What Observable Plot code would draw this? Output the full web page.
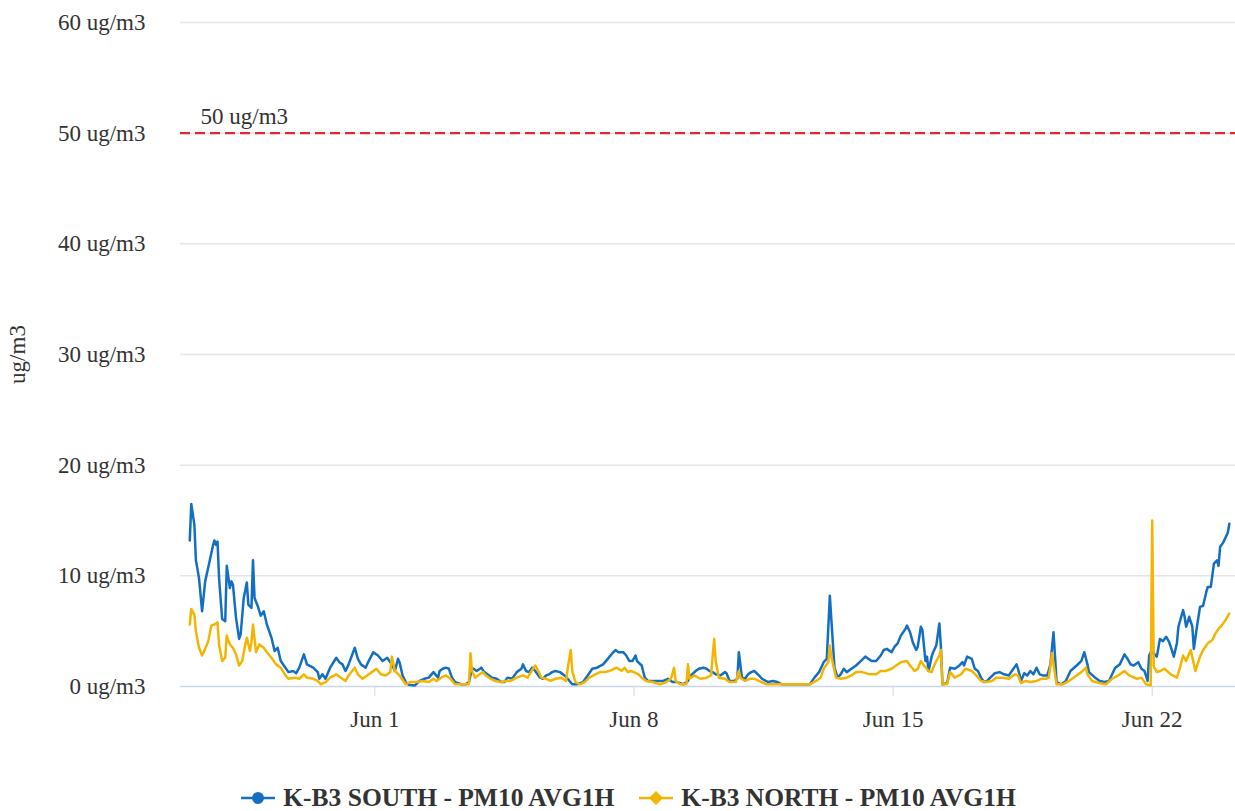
<!DOCTYPE html>
<html><head><meta charset="utf-8">
<script src="https://cdn.jsdelivr.net/npm/d3@7"></script>
<script src="https://cdn.jsdelivr.net/npm/@observablehq/plot@0.6"></script>
<style>
body{margin:0;background:#fff;font-family:"Liberation Serif",serif;}
#chart{position:absolute;left:0;top:0;}
#legend{position:absolute;top:783px;left:0;width:1235px;box-sizing:border-box;padding-left:22px;display:flex;justify-content:center;align-items:center;font-weight:bold;font-size:25.5px;color:#333;white-space:nowrap;}
.item{display:flex;align-items:center;}
.item svg{margin-right:8px;}
</style></head><body>
<div id="chart"></div>
<div id="legend"></div>
<script>
// Series names
const seriesNames = ["K-B3 SOUTH - PM10 AVG1H", "K-B3 NORTH - PM10 AVG1H"];
const seriesColors = ["#146fc2", "#f5b400"];
// start of record (hour 0) = May 27, 00:00
const startTime = Date.UTC(2023, 4, 27, 0);
const domainStart = Date.UTC(2023, 4, 26, 18);
const domainEnd = Date.UTC(2023, 5, 24, 6);
const tickDates = [Date.UTC(2023,5,1), Date.UTC(2023,5,8), Date.UTC(2023,5,15), Date.UTC(2023,5,22)];
const yTicks = [0, 10, 20, 30, 40, 50, 60];
const limitValue = 50;
const limitLabel = "50 ug/m3";

// [hours since start, ug/m3]
const southPM10 = [
[0,13.2],[1,16.5],[3,14.6],[4,11.4],[6,9.8],[8,6.8],[10,9.5],[13,11.4],[15,12.7],[16,13.2],[17,12.8],[18,13.1],[19,9.8],[21,6.1],[23,5.9],[24,10.9],[26,8.9],[27,9.5],[28,9.2],[30,6.2],[32,4.3],[33,4.7],[35,8.0],[37,9.4],[38,7.4],[40,7.1],[41,11.4],[42,8.0],[44,7.3],[46,6.4],[48,6.8],[50,5.6],[53,4.4],[55,3.2],[57,3.5],[59,2.3],[61,1.9],[64,1.3],[67,1.4],[69,1.2],[71,1.7],[74,2.9],[76,2.0],[80,1.7],[83,1.3],[84,0.7],[86,1.1],[88,0.7],[91,1.7],[95,2.6],[97,2.2],[99,2.0],[101,1.4],[103,2.0],[107,3.5],[109,2.5],[111,2.0],[114,1.7],[116,2.3],[119,3.1],[122,2.8],[125,2.3],[128,2.6],[131,2.0],[133,1.4],[135,2.5],[136,2.2],[138,1.0],[140,0.4],[142,0.15],[146,0.1],[149,0.5],[152,0.7],[155,0.8],[158,1.3],[161,0.8],
[162,1.4],[164,1.6],[166,1.7],[168,1.6],[170,0.8],[172,0.4],[176,0.2],[179,0.2],[181,0.4],[183,1.6],[184,1.6],[186,1.4],[189,1.7],[191,1.3],[193,1.1],[196,0.8],[199,0.7],[202,0.4],[204,0.4],[206,0.8],[209,0.7],[212,1.3],[215,1.6],[216,2.0],[218,1.4],[220,1.3],[222,1.7],[224,1.4],[227,0.8],[229,0.7],[231,1.0],[233,1.1],[235,1.3],[237,1.4],[240,1.3],[243,1.0],[245,0.7],[248,0.2],[251,0.2],[255,0.4],[258,1.0],[261,1.6],[264,1.7],[268,2.0],[271,2.5],[274,3.0],[276,3.3],[278,3.1],[281,3.1],[283,2.8],[285,2.3],[287,2.3],[289,2.8],[290,2.3],[293,1.9],[295,0.8],[297,0.5],[300,0.5],[303,0.5],[307,0.5],[310,0.7],[313,0.4],[316,0.4],[320,0.2],[323,0.5],[325,1.0],
[328,1.4],[330,1.6],[333,1.7],[335,1.6],[337,1.4],[339,1.3],[341,1.1],[344,1.0],[347,1.3],[348,1.2],[350,0.5],[353,0.5],[355,0.7],[356,3.1],[358,0.8],[360,0.7],[362,1.1],[364,1.3],[366,1.4],[369,1.0],[371,0.7],[375,0.4],[378,0.5],[381,0.4],[384,0.2],[389,0.2],[393,0.2],[397,0.2],[402,0.2],[405,0.8],[408,1.3],[411,2.2],[413,2.5],[415,8.2],[416,6.0],[418,1.7],[420,0.8],[422,1.1],[424,1.6],[426,1.3],[429,1.6],[432,1.9],[435,2.3],[438,2.7],[442,2.3],[445,2.3],[448,2.8],[450,3.3],[452,3.4],[455,3.1],[457,3.6],[459,3.9],[461,4.6],[464,5.2],[465,5.5],[467,4.9],[469,3.9],[471,3.3],[472,3.6],[474,5.4],[475,5.1],[477,2.3],[478,2.7],[479,1.4],[481,2.7],[482,3.1],[484,3.7],[486,5.7],[487,3.6],[488,0.2],[491,0.3],[493,1.7],[496,1.6],
[499,1.9],[501,2.2],[502,1.9],[504,2.7],[507,2.5],[509,1.6],[511,1.4],[513,0.8],[515,0.4],[517,0.5],[519,0.8],[522,1.2],[525,1.3],[528,1.1],[531,1.0],[533,1.4],[536,2.0],[537,1.6],[539,0.5],[541,1.2],[543,1.0],[545,1.4],[547,1.1],[549,1.7],[551,1.1],[553,1.0],[556,1.0],[558,2.0],[560,4.9],[561,2.7],[562,0.4],[565,0.2],[568,0.5],[571,1.4],[575,1.9],[578,2.3],[580,3.1],[582,2.0],[583,1.3],[587,0.8],[590,0.5],[593,0.4],[596,0.5],[598,1.1],[600,1.7],[603,2.0],[606,2.9],[608,2.5],[610,2.0],[612,1.9],[615,2.2],[617,1.6],[619,1.4],[621,0.5],[622,2.8],[623,3.1],[625,3.0],[627,2.7],[629,4.3],[631,4.1],[633,4.5],[635,4.0],[636,3.6],[638,2.7],[640,3.9],[641,5.4],[644,6.9],[645,6.3],[646,5.4],[648,6.3],[650,5.4],[651,3.4],[653,5.4],[655,7.2],[657,7.3],[659,8.5],[660,9.0],[662,9.0],[664,11.1],[666,11.4],[667,10.9],[668,12.6],[670,13.0],[672,13.6],[673,13.9],[674,14.7]
];

const northPM10 = [
[0,5.6],[1,7.0],[3,6.5],[4,5.0],[6,3.5],[8,2.8],[10,3.4],[12,4.1],[14,5.5],[16,5.6],[18,5.8],[19,3.8],[21,2.3],[23,2.6],[24,4.6],[26,3.8],[28,3.5],[30,2.9],[32,1.9],[34,2.3],[36,3.8],[37,4.4],[39,3.2],[40,4.0],[41,5.6],[43,3.1],[45,3.8],[48,3.5],[50,3.1],[53,2.6],[56,2.0],[59,1.7],[62,1.0],[64,0.7],[68,0.8],[71,0.7],[74,1.1],[76,0.8],[80,0.7],[83,0.5],[85,0.2],[88,0.4],[91,0.8],[95,1.1],[98,0.8],[101,0.5],[103,1.0],[107,1.7],[109,1.1],[112,0.7],[115,1.0],[118,1.3],[121,1.6],[124,1.1],[127,1.0],[130,1.3],[131,2.7],[133,1.4],[136,1.0],[140,0.2],[143,0.4],[147,0.4],[151,0.5],[155,0.4],[158,0.7],
[160,0.5],[163,0.8],[166,1.0],[169,0.7],[172,0.2],[177,0.2],[181,0.2],[182,3.0],[183,1.4],[185,0.8],[188,1.1],[190,1.3],[192,1.0],[195,0.7],[198,0.5],[202,0.4],[205,0.5],[208,0.5],[212,0.8],[216,1.0],[219,0.8],[223,1.7],[224,1.9],[226,1.4],[228,0.8],[231,0.7],[234,0.5],[237,0.7],[241,0.8],[244,0.5],[245,1.6],[247,3.3],[248,1.4],[250,0.4],[253,0.2],[256,0.4],[259,0.8],[263,1.1],[266,1.3],[269,1.3],[272,1.4],[275,1.6],[277,1.7],[280,1.4],[282,1.7],[284,1.3],[286,1.4],[288,1.3],[291,1.1],[293,0.8],[296,0.5],[300,0.4],[305,0.2],[309,0.4],[312,0.7],[314,1.7],[315,0.5],[318,0.2],[322,0.2],[323,2.0],[324,0.7],[327,1.0],
[331,0.7],[335,0.8],[338,1.0],[339,2.7],[340,4.3],[341,2.3],[343,0.8],[347,0.7],[350,0.4],[354,0.4],[356,1.4],[357,0.8],[360,0.5],[363,0.7],[366,0.7],[369,0.5],[374,0.2],[378,0.2],[382,0.2],[389,0.2],[397,0.2],[402,0.2],[406,0.5],[409,0.8],[411,1.6],[413,2.0],[414,2.2],[415,3.7],[416,2.7],[419,0.8],[422,0.7],[426,0.8],[429,1.0],[432,1.3],[436,1.3],[441,1.1],[445,1.1],[448,1.4],[451,1.4],[455,1.6],[458,1.9],[461,2.2],[465,2.3],[467,1.9],[470,1.4],[472,1.6],[474,2.3],[476,1.9],[479,1.4],[481,1.3],[482,1.7],[484,2.3],[486,2.8],[487,3.3],[488,0.2],[491,0.2],[493,1.3],[496,0.8],
[500,1.1],[503,1.6],[507,1.4],[510,1.0],[513,0.5],[516,0.4],[520,0.5],[523,0.8],[527,0.8],[531,0.7],[535,1.1],[537,1.0],[539,0.3],[542,0.5],[545,0.4],[549,0.5],[552,0.7],[555,0.7],[557,0.8],[559,3.0],[561,1.1],[562,0.2],[566,0.2],[570,0.5],[575,1.0],[578,1.3],[581,1.7],[582,1.1],[585,0.5],[590,0.3],[594,0.2],[598,0.7],[603,1.1],[606,1.4],[609,1.0],[614,0.7],[617,0.8],[620,0.2],[623,0.1],[624,15.0],[625,1.8],[627,1.3],[629,1.4],[632,1.6],[636,1.1],[640,0.8],[642,1.7],[644,2.8],[646,2.3],[649,3.3],[652,1.4],[655,2.7],[657,3.3],[660,3.9],[663,4.2],[665,4.8],[667,5.2],[669,5.5],[672,6.1],[674,6.6]
];

const toRows = (arr, name) => arr.map(([h, v]) => ({date: new Date(startTime + h * 3600e3), value: v, series: name}));
const south = toRows(southPM10, seriesNames[0]);
const north = toRows(northPM10, seriesNames[1]);

const plot = Plot.plot({
  width: 1235,
  height: 770,
  marginLeft: 180,
  marginRight: 0,
  marginTop: 22,
  marginBottom: 84,
  style: {fontFamily: "Liberation Serif, serif", fontSize: "23px", color: "#333", background: "#fff"},
  x: {type: "utc", domain: [new Date(domainStart), new Date(domainEnd)]},
  y: {domain: [0, 60]},
  marks: [
    Plot.gridY(yTicks.filter(d => d > 0), {stroke: "#e6e6e6", strokeOpacity: 1, strokeWidth: 1.5}),
    Plot.ruleY([0], {stroke: "#ccd6eb", strokeWidth: 1.5}),
    Plot.ruleY([limitValue], {stroke: "#e0282e", strokeWidth: 2.2, strokeDasharray: "10,5"}),
    Plot.text([limitLabel], {x: () => new Date(domainStart), y: limitValue, text: d => d, textAnchor: "start", dx: 20, dy: -17, fill: "#333", fontSize: 23}),
    Plot.axisY({ticks: yTicks, tickSize: 0, tickPadding: 35, tickFormat: d => `${d} ug/m3`, label: "ug/m3", labelAnchor: "center", labelOffset: 172, labelArrow: "none", fill: "#333"}),
    Plot.axisX({ticks: tickDates.map(d => new Date(d)), tickSize: 10, tickPadding: 14, tickFormat: d3.utcFormat("%b %-d"), stroke: "#ccd6eb", fill: "#333", label: null}),
    Plot.line(south, {x: "date", y: "value", stroke: seriesColors[0], strokeWidth: 2.5, curve: "linear"}),
    Plot.line(north, {x: "date", y: "value", stroke: seriesColors[1], strokeWidth: 2.5, curve: "linear"})
  ]
});
document.getElementById("chart").appendChild(plot);

// Legend
const legend = document.getElementById("legend");
const symbols = [
  `<svg width="34" height="16"><line x1="0" y1="8" x2="34" y2="8" stroke="${seriesColors[0]}" stroke-width="2.5"/><circle cx="17" cy="8" r="6" fill="${seriesColors[0]}"/></svg>`,
  `<svg width="34" height="18"><line x1="0" y1="9" x2="34" y2="9" stroke="${seriesColors[1]}" stroke-width="2.5"/><path d="M17 2 L24 9 L17 16 L10 9 Z" fill="${seriesColors[1]}"/></svg>`
];
seriesNames.forEach((name, i) => {
  const item = document.createElement("div");
  item.className = "item";
  if (i > 0) item.style.marginLeft = "25px";
  item.innerHTML = symbols[i] + `<span>${name}</span>`;
  legend.appendChild(item);
});
</script>
</body></html>
